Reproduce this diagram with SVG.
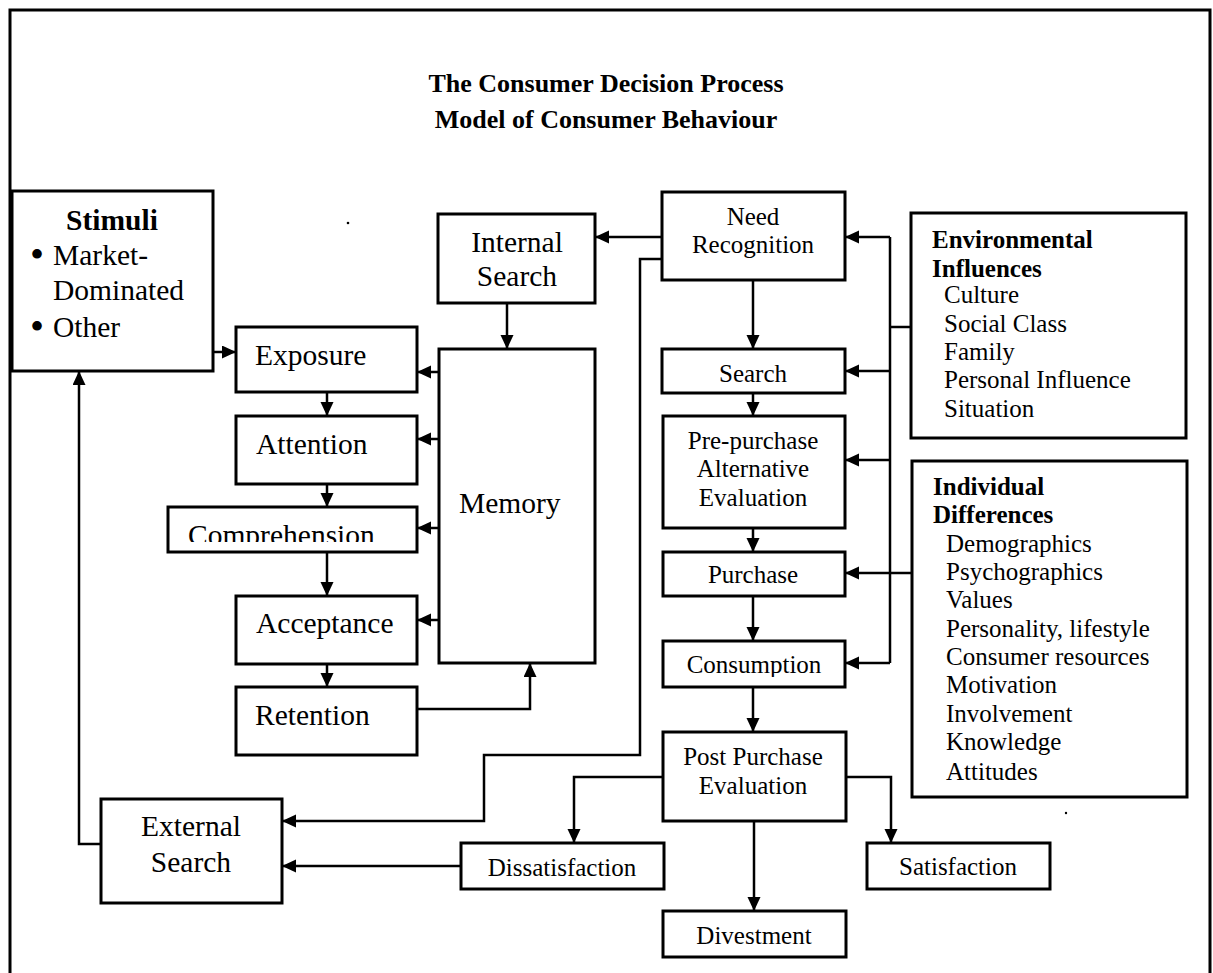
<svg xmlns="http://www.w3.org/2000/svg" width="1213" height="973" viewBox="0 0 1213 973">
<style>
.bx{fill:#fff;stroke:#000;stroke-width:3}
.fr{fill:none;stroke:#000;stroke-width:3}
.ln{fill:none;stroke:#000;stroke-width:2.5}
.ar{fill:none;stroke:#000;stroke-width:2.5;marker-end:url(#ah)}
text{font-family:"Liberation Serif","Times New Roman",serif;fill:#000}
.big{font-size:29.5px}
.med{font-size:25px}
.b{font-weight:bold}
.ttl{font-size:26px;font-weight:bold}
.c{text-anchor:middle}
.bul{font-size:40px}
</style>
<defs>
<marker id="ah" markerUnits="userSpaceOnUse" markerWidth="16" markerHeight="16" refX="14" refY="6.5" orient="auto">
<path d="M0,0 L14,6.5 L0,13 z" fill="#000"/>
</marker>
<clipPath id="compClip"><rect x="168" y="500" width="250" height="42"/></clipPath>
<clipPath id="consClip"><rect x="663" y="640" width="183" height="37"/></clipPath>
</defs>
<rect width="1213" height="973" fill="#fff"/>
<path class="fr" d="M10,990 L10,10 L1210,10 L1210,990"/>
<g id="title">
<text class="ttl c" x="606" y="92">The Consumer Decision Process</text>
<text class="ttl c" x="606" y="128">Model of Consumer Behaviour</text>
</g>
<g id="connectors">
<path class="ar" d="M213,352 L236,352"/>
<path class="ar" d="M662,237 L595,237"/>
<path class="ar" d="M507,303 L507,349"/>
<path class="ar" d="M439,372 L417,372"/>
<path class="ar" d="M439,439 L417,439"/>
<path class="ar" d="M439,528 L417,528"/>
<path class="ar" d="M439,620 L417,620"/>
<path class="ar" d="M327,392 L327,416"/>
<path class="ar" d="M327,484 L327,507"/>
<path class="ar" d="M327,552 L327,596"/>
<path class="ar" d="M327,664 L327,687"/>
<path class="ar" d="M417,709 L530,709 L530,663"/>
<path class="ar" d="M662,259 L640,259 L640,755 L484,755 L484,821 L282,821"/>
<path class="ar" d="M461,866 L282,866"/>
<path class="ar" d="M101,844 L79,844 L79,371"/>
<path class="ar" d="M753,280 L753,349"/>
<path class="ar" d="M753,393 L753,416"/>
<path class="ar" d="M753,528 L753,552"/>
<path class="ar" d="M753,596 L753,641"/>
<path class="ar" d="M753,687 L753,732"/>
<path class="ar" d="M663,777 L574,777 L574,843"/>
<path class="ar" d="M846,777 L891,777 L891,843"/>
<path class="ar" d="M754,821 L754,911"/>
<path class="ln" d="M911,327 L890,327"/>
<path class="ln" d="M890,237 L890,663"/>
<path class="ar" d="M890,237 L845,237"/>
<path class="ar" d="M890,371 L845,371"/>
<path class="ar" d="M890,460 L845,460"/>
<path class="ar" d="M890,663 L845,663"/>
<path class="ar" d="M912,573 L845,573"/>
</g>
<g id="stimuli">
<rect class="bx" x="12" y="191" width="201" height="180"/>
<text class="big b c" x="112" y="230">Stimuli</text>
<text class="bul" x="30" y="268">•</text>
<text class="big" x="53" y="265">Market-</text>
<text class="big" x="53" y="300">Dominated</text>
<text class="bul" x="30" y="340">•</text>
<text class="big" x="53" y="337">Other</text>
</g>
<g id="internal-search">
<rect class="bx" x="438" y="214" width="157" height="89"/>
<text class="big c" x="517" y="252">Internal</text>
<text class="big c" x="517" y="286">Search</text>
</g>
<g id="need-recognition">
<rect class="bx" x="662" y="192" width="183" height="88"/>
<text class="med c" x="753" y="225">Need</text>
<text class="med c" x="753" y="253">Recognition</text>
</g>
<g id="exposure">
<rect class="bx" x="236" y="327" width="181" height="65"/>
<text class="big" x="255" y="365">Exposure</text>
</g>
<g id="attention">
<rect class="bx" x="236" y="416" width="181" height="68"/>
<text class="big" x="256" y="454">Attention</text>
</g>
<g id="comprehension">
<rect class="bx" x="168" y="507" width="249" height="45"/>
<text class="big" x="188" y="545" clip-path="url(#compClip)">Comprehension</text>
</g>
<g id="acceptance">
<rect class="bx" x="236" y="596" width="181" height="68"/>
<text class="big" x="256" y="633">Acceptance</text>
</g>
<g id="retention">
<rect class="bx" x="236" y="687" width="181" height="68"/>
<text class="big" x="255" y="725">Retention</text>
</g>
<g id="memory">
<rect class="bx" x="439" y="349" width="156" height="314"/>
<text class="big" x="459" y="513">Memory</text>
</g>
<g id="search">
<rect class="bx" x="662" y="349" width="183" height="44"/>
<text class="med c" x="753" y="382">Search</text>
</g>
<g id="pre-purchase">
<rect class="bx" x="663" y="416" width="182" height="112"/>
<text class="med c" x="753" y="449">Pre-purchase</text>
<text class="med c" x="753" y="477">Alternative</text>
<text class="med c" x="753" y="506">Evaluation</text>
</g>
<g id="purchase">
<rect class="bx" x="663" y="552" width="182" height="44"/>
<text class="med c" x="753" y="583">Purchase</text>
</g>
<g id="consumption">
<rect class="bx" x="663" y="641" width="182" height="46"/>
<text class="med c" x="754" y="673" clip-path="url(#consClip)">Consumption</text>
</g>
<g id="post-purchase">
<rect class="bx" x="663" y="732" width="183" height="89"/>
<text class="med c" x="753" y="765">Post Purchase</text>
<text class="med c" x="753" y="794">Evaluation</text>
</g>
<g id="dissatisfaction">
<rect class="bx" x="461" y="843" width="203" height="46"/>
<text class="med c" x="562" y="876">Dissatisfaction</text>
</g>
<g id="satisfaction">
<rect class="bx" x="867" y="843" width="183" height="46"/>
<text class="med c" x="958" y="875">Satisfaction</text>
</g>
<g id="divestment">
<rect class="bx" x="663" y="911" width="183" height="46"/>
<text class="med c" x="754" y="944">Divestment</text>
</g>
<g id="external-search">
<rect class="bx" x="101" y="799" width="181" height="104"/>
<text class="big c" x="191" y="836">External</text>
<text class="big c" x="191" y="872">Search</text>
</g>
<g id="environmental-influences">
<rect class="bx" x="911" y="213" width="275" height="225"/>
<text class="med b" x="932" y="248">Environmental</text>
<text class="med b" x="932" y="277">Influences</text>
<text class="med" x="944" y="303">Culture</text>
<text class="med" x="944" y="332">Social Class</text>
<text class="med" x="944" y="360">Family</text>
<text class="med" x="944" y="388">Personal Influence</text>
<text class="med" x="944" y="417">Situation</text>
</g>
<g id="individual-differences">
<rect class="bx" x="912" y="461" width="275" height="336"/>
<text class="med b" x="933" y="495">Individual</text>
<text class="med b" x="933" y="523">Differences</text>
<text class="med" x="946" y="552">Demographics</text>
<text class="med" x="946" y="580">Psychographics</text>
<text class="med" x="946" y="608">Values</text>
<text class="med" x="946" y="637">Personality, lifestyle</text>
<text class="med" x="946" y="665">Consumer resources</text>
<text class="med" x="946" y="693">Motivation</text>
<text class="med" x="946" y="722">Involvement</text>
<text class="med" x="946" y="750">Knowledge</text>
<text class="med" x="946" y="780">Attitudes</text>
</g>
<circle cx="348" cy="223" r="1.3" fill="#000"/>
<circle cx="1066" cy="813" r="1.2" fill="#000"/>
</svg>
